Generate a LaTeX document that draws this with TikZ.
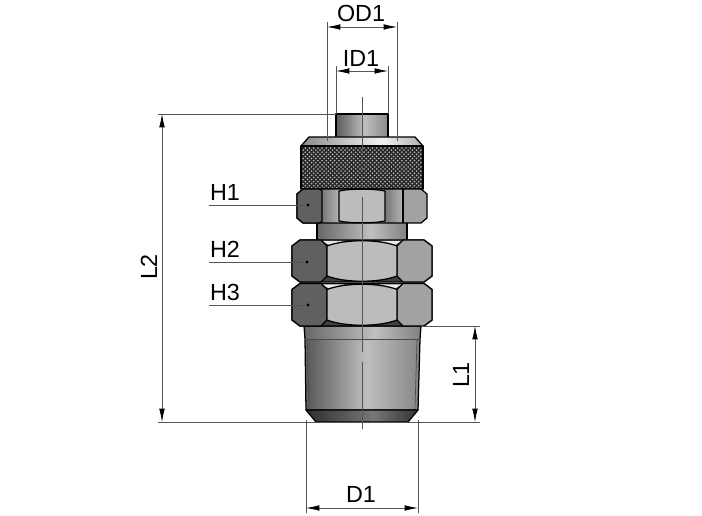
\documentclass[tikz,border=0pt]{standalone}
\usepackage{fontspec}
\setmainfont{Liberation Sans}
\usetikzlibrary{arrows.meta}

\definecolor{facedark}{HTML}{606060}
\definecolor{facemid}{HTML}{A2A2A2}
\definecolor{facelight}{HTML}{BCBCBC}
\definecolor{dimgrey}{HTML}{555555}
\definecolor{g2e}{HTML}{2E2E2E}
\definecolor{g33}{HTML}{333333}
\definecolor{g5a}{HTML}{5A5A5A}
\definecolor{g66}{HTML}{666666}
\definecolor{g70}{HTML}{808080}
\definecolor{g77}{HTML}{777777}
\definecolor{g7e}{HTML}{8A8A8A}
\definecolor{g8a}{HTML}{8A8A8A}
\definecolor{gb0}{HTML}{B0B0B0}
\definecolor{gb5}{HTML}{B5B5B5}
\definecolor{gbe}{HTML}{BEBEBE}
\definecolor{gc0}{HTML}{C0C0C0}
\definecolor{gf2}{HTML}{F2F2F2}
\pgfdeclarehorizontalshading{metal}{100bp}{color(0bp)=(g5a); color(25bp)=(g5a); color(52bp)=(gbe); color(75bp)=(g7e); color(100bp)=(g7e)}
\pgfdeclarehorizontalshading{necksh}{100bp}{color(0bp)=(g66); color(25bp)=(g66); color(55bp)=(gc0); color(75bp)=(g70); color(100bp)=(g70)}
\pgfdeclarehorizontalshading{chamfer}{100bp}{color(0bp)=(g8a); color(25bp)=(g8a); color(58bp)=(gf2); color(75bp)=(gb0); color(100bp)=(gb0)}
\pgfdeclarehorizontalshading{tipsh}{100bp}{color(0bp)=(g2e); color(25bp)=(g2e); color(55bp)=(g77); color(75bp)=(g33); color(100bp)=(g33)}
\pgfdeclarehorizontalshading{faceflat}{100bp}{color(0bp)=(g77); color(25bp)=(g77); color(75bp)=(gb5); color(100bp)=(gb5)}

\tikzset{
    part/.style={draw=black,line width=.95pt,line join=round},
    partline/.style={black!70,line width=.5pt},
    dim/.style={draw=dimgrey,line width=.55pt,{Latex[length=10pt,width=4.2pt,black]}-{Latex[length=10pt,width=4.2pt,black]}},
    ext/.style={draw=dimgrey,line width=.55pt},
    leader/.style={draw=dimgrey,line width=.55pt},
    lab/.style={font=\fontsize{17.5}{17.5}\selectfont,inner sep=0pt},
    hitdot/.style={circle,fill=black,inner sep=0pt,minimum size=2.5pt}
}

\begin{document}
\begin{tikzpicture}[x=.75pt,y=-.75pt]

    \useasboundingbox (0,0) rectangle (702,516);

    % stem
    \path[part,shading=metal] (336,114) rectangle (388,138);
    \draw[black,line width=1.6pt] (336,114) -- (388,114);

    % collar and knurl
    \path[part,shading=chamfer] (309,137) -- (415,137) -- (423,146) -- (301,146) -- cycle;
    \begin{scope}
        \clip (301,146) rectangle (423,190);
        \fill[white!74!black] (301,146) rectangle (423,190);
        \foreach \k in {0,4.2,...,170} {
            \draw[black!85,line width=1.05pt] (301+\k,146) -- ++(-46,46);
            \draw[black!85,line width=1.05pt] (423-\k,146) -- ++(46,46);
        }
    \end{scope}
    \draw[part] (301,146) rectangle (423,189);

    % neck
    \path[part,shading=necksh] (317,222) rectangle (407,241);

    % small nut
    \path[fill=facemid] (297,194) -- (303,189) -- (421,189) -- (427,194)
        -- (427,218) -- (421,223) -- (303,223) -- (297,218) -- cycle;
    \path[shading=faceflat] (322,189.5) rectangle (339,222.5);
    \path[shading=faceflat] (385,189.5) rectangle (403,222.5);
    \draw[part] (297,194) -- (303,189) -- (421,189) -- (427,194)
        -- (427,218) -- (421,223) -- (303,223) -- (297,218) -- cycle;
    \path[part,fill=facedark] (297,194) -- (303,189) -- (319,189) -- (322,190.5)
        -- (322,221.5) -- (319,223) -- (303,223) -- (297,218) -- cycle;
    \draw[part] (403,189) -- (403,223);
    \path[part,fill=facelight] (339,191) .. controls (350,188.5) and (374,188.5) .. (385,191)
        -- (385,221) .. controls (374,223.5) and (350,223.5) .. (339,221) -- cycle;

    % body
    \path[part,shading=necksh] (304,326) -- (421,326) -- (420,339) -- (418,410) -- (306,410) -- (305,339) -- cycle;
    \path[shading=metal] (307,339) -- (417,339) -- (416,409) -- (308,409) -- cycle;
    \draw[partline] (305,339) -- (420,339);
    \draw[partline] (307,339) -- (309,409);
    \draw[partline] (417,339) -- (415,409);
    \path[part,shading=tipsh] (306,410) -- (418,410) -- (408,422) -- (316,422) -- cycle;

    % big nuts
    \foreach \ytop/\ybot in {240/282,283.5/326} {
        \path[part,fill=black!75] (292,\ytop+6) -- (300,\ytop) -- (424,\ytop) -- (432,\ytop+6)
            -- (432,\ybot-6) -- (424,\ybot) -- (300,\ybot) -- (292,\ybot-6) -- cycle;
        \fill[white!92!black] (322,\ytop+.8) -- (345,\ytop+.8) -- (329,\ytop+5) -- cycle;
        \fill[white!92!black] (402,\ytop+.8) -- (379,\ytop+.8) -- (395,\ytop+5) -- cycle;
        \path[part,fill=facedark] (292,\ytop+6) -- (300,\ytop) -- (321,\ytop) -- (327,\ytop+6)
            -- (327,\ybot-6) -- (321,\ybot) -- (300,\ybot) -- (292,\ybot-6) -- cycle;
        \path[part,fill=facemid] (432,\ytop+6) -- (424,\ytop) -- (403,\ytop) -- (397,\ytop+6)
            -- (397,\ybot-6) -- (403,\ybot) -- (424,\ybot) -- (432,\ybot-6) -- cycle;
        \path[part,fill=facelight] (327,\ytop+6) .. controls (345,\ytop-1) and (379,\ytop-1) .. (397,\ytop+6)
            -- (397,\ybot-6) .. controls (379,\ybot+1) and (345,\ybot+1) .. (327,\ybot-6) -- cycle;
    }

    % centre line
    \draw[dimgrey,line width=.7pt] (362,97) -- (362,147);
    \draw[dimgrey,line width=.7pt,dashed,dash pattern=on 5pt off 2pt] (362,147) -- (362,188);
    \draw[dimgrey,line width=.7pt] (362,197) -- (362,328);
    \draw[dimgrey,line width=.7pt] (362,328) -- (362,352);
    \draw[dimgrey,line width=.7pt] (362,362) -- (362,429);

    % named ends of the dimensions
    \coordinate (od1a) at (327,27);
    \coordinate (od1b) at (397,27);
    \coordinate (id1a) at (336,71);
    \coordinate (id1b) at (388,71);
    \coordinate (l2a)  at (162,114);
    \coordinate (l2b)  at (162,422);
    \coordinate (l1a)  at (475,326);
    \coordinate (l1b)  at (475,422);
    \coordinate (d1a)  at (306,508);
    \coordinate (d1b)  at (418,508);

    \draw[ext] (327,22) -- (327,141);
    \draw[ext] (397,22) -- (397,141);
    \draw[ext] (336,66) -- (336,114);
    \draw[ext] (388,66) -- (388,114);
    \draw[ext] (158,114) -- (336,114);
    \draw[ext] (158,422) -- (480,422);
    \draw[ext] (421,326) -- (480,326);
    \draw[ext] (306,420) -- (306,513);
    \draw[ext] (418,420) -- (418,513);

    \draw[dim] (od1a) -- (od1b);
    \draw[dim] (id1a) -- (id1b);
    \draw[dim] (l2a) -- (l2b);
    \draw[dim] (l1a) -- (l1b);
    \draw[dim] (d1a) -- (d1b);

    % labels
    \node[lab] (od1) at (361,13)  {OD1};
    \node[lab] (id1) at (361,58)  {ID1};
    \node[lab] (d1)  at (361,494) {D1};
    \node[lab,rotate=90] (l2) at (149,267) {L2};
    \node[lab,rotate=90] (l1) at (461,375) {L1};
    \node[lab] (h1) at (225,192) {H1};
    \node[lab] (h2) at (225,249) {H2};
    \node[lab] (h3) at (225,292) {H3};

    % leaders to the nuts
    \node[hitdot] (h1dot) at (308,205) {};
    \node[hitdot] (h2dot) at (307,262) {};
    \node[hitdot] (h3dot) at (308,305) {};
    \coordinate (h1end) at (209,205);
    \coordinate (h2end) at (209,262);
    \coordinate (h3end) at (209,305);
    \draw[leader] (h1end) -- (h1dot);
    \draw[leader] (h2end) -- (h2dot);
    \draw[leader] (h3end) -- (h3dot);

\end{tikzpicture}
\end{document}
